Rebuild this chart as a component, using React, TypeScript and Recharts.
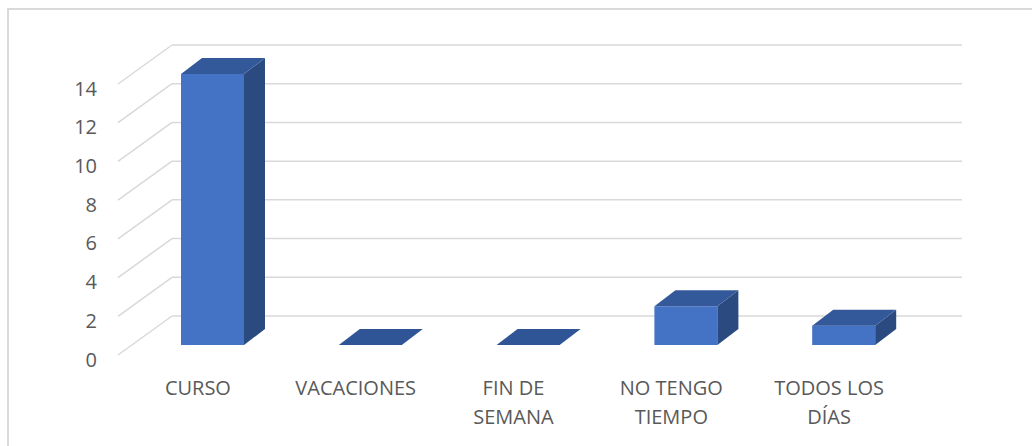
import { BarChart, Bar, XAxis, YAxis, CartesianGrid } from 'recharts';

const categories = ['CURSO', 'VACACIONES', 'FIN DE SEMANA', 'NO TENGO TIEMPO', 'TODOS LOS DÍAS'];
const labelLines = [['CURSO'], ['VACACIONES'], ['FIN DE', 'SEMANA'], ['NO TENGO', 'TIEMPO'], ['TODOS LOS', 'DÍAS']];
const values = [14, 0, 0, 2, 1];
const yTicks = [0, 2, 4, 6, 8, 10, 12, 14];

const data = categories.map((name, i) => ({ name, value: values[i] }));

// depth of the 3d boxes and of the walls
const DX = 21;
const DY = -16;
const TEXT = '#595959';
const FONT = '"Open Sans", sans-serif';

const Box = (props: any) => {
  const { x, y, width, height } = props;
  const w = width;
  const h = height || 0;
  return (
    <g>
      {h > 0 && <rect x={x} y={y} width={w} height={h} fill="#4472C4" />}
      {h > 0 && (
        <polygon
          points={`${x + w},${y} ${x + w + DX},${y + DY} ${x + w + DX},${y + h + DY} ${x + w},${y + h}`}
          fill="#2B4A80"
        />
      )}
      <polygon
        points={`${x},${y + h} ${x + DX},${y + h + DY} ${x + w + DX},${y + h + DY} ${x + w},${y + h}`}
        fill={h > 0 ? '#34599A' : '#2F5597'}
        transform={h > 0 ? `translate(0,${-h})` : undefined}
      />
    </g>
  );
};

const GridLine = (props: any) => {
  const { y1, index } = props;
  return (
    <g key={`g-${index}`}>
      <line x1={118} y1={y1 + 10} x2={172} y2={y1 - 29} stroke="#d9d9d9" strokeWidth={1.5} />
      <line x1={172} y1={y1 - 29} x2={962} y2={y1 - 29} stroke="#d9d9d9" strokeWidth={1.5} />
    </g>
  );
};

const YTick = (props: any) => {
  const { y, payload } = props;
  return (
    <text x={97} y={y + 14} textAnchor="end" dominantBaseline="central" fill={TEXT} fontSize={20} fontFamily={FONT}>
      {payload.value}
    </text>
  );
};

const XTick = (props: any) => {
  const { x, payload, index } = props;
  const lines = labelLines[index] || [payload.value];
  return (
    <g>
      {lines.map((t: string, i: number) => (
        <text key={i} x={x - 15} y={387 + i * 29} textAnchor="middle" dominantBaseline="central" fill={TEXT} fontSize={20} fontFamily={FONT}>
          {t}
        </text>
      ))}
    </g>
  );
};

export default function App() {
  return (
    <div style={{ position: 'absolute', left: 0, top: 0, width: 1032, height: 446, background: '#fff' }}>
      <div style={{ position: 'absolute', left: 7, top: 8, right: 0, bottom: 0, borderTop: '2px solid #d9d9d9', borderLeft: '2px solid #d9d9d9' }} />
      <BarChart width={1032} height={446} data={data} margin={{ top: 74, right: 109, left: 74, bottom: 41 }}>
        <CartesianGrid vertical={false} horizontal={GridLine} />
        <XAxis dataKey="name" axisLine={false} tickLine={false} tick={XTick} height={60} interval={0} />
        <YAxis domain={[0, 14]} ticks={yTicks} axisLine={false} tickLine={false} tick={YTick} width={60} />
        <Bar dataKey="value" barSize={63} shape={Box} isAnimationActive={false} />
      </BarChart>
    </div>
  );
}
